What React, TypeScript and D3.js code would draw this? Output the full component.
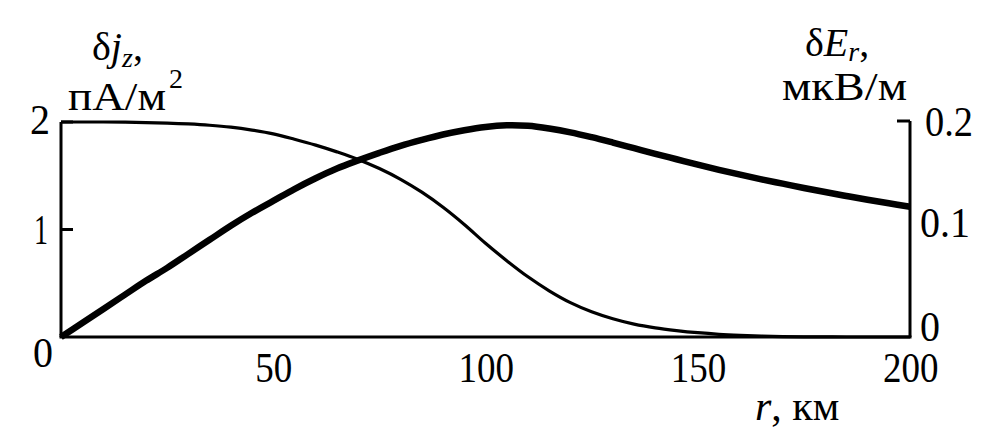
import React from "react";
import * as d3 from "d3";

const radius = [
  0, 5, 10, 15, 20, 25, 30, 35, 40, 45, 50, 55, 60, 65, 70, 75, 80, 85, 90, 95, 100,
  105, 110, 115, 120, 125, 130, 135, 140, 145, 150, 155, 160, 165, 170, 175, 180, 185, 190, 195, 200,
];
const currentJ = [
  2.0, 2.0, 2.0, 1.998, 1.995, 1.99, 1.982, 1.97, 1.952, 1.925, 1.89, 1.84, 1.785, 1.722, 1.652, 1.567, 1.467, 1.347, 1.207, 1.047, 0.872,
  0.71, 0.56, 0.43, 0.32, 0.235, 0.17, 0.12, 0.085, 0.06, 0.04, 0.025, 0.015, 0.008, 0.004, 0.002, 0.001, 0.0, 0.0, 0.0, 0.0,
];
const fieldE = [
  0, 0.013, 0.026, 0.039, 0.052, 0.064, 0.077, 0.09, 0.103, 0.115, 0.126, 0.137, 0.147, 0.156, 0.1635, 0.1705, 0.177, 0.1825, 0.1875, 0.1915, 0.1945,
  0.196, 0.1955, 0.193, 0.1895, 0.185, 0.18, 0.1748, 0.1696, 0.1646, 0.1596, 0.1548, 0.1503, 0.146, 0.142, 0.138, 0.1342, 0.1306, 0.1271, 0.1238, 0.1206,
];
const xTicks = [50, 100, 150, 200];
const leftTicks = [1, 2];
const rightTicks = [0.2];

const FONT = "'Liberation Serif', 'Times New Roman', serif";

export default function App() {
  const W = 1004, H = 437;
  const x = d3.scaleLinear().domain([0, 200]).range([61, 910]);
  const yL = d3.scaleLinear().domain([0, 2]).range([337, 122]);
  const yR = d3.scaleLinear().domain([0, 0.2]).range([337, 121]);

  const lineJ = d3.line<number>().x((_, i) => x(radius[i])).y((d) => yL(d)).curve(d3.curveCatmullRom.alpha(0.5));
  const lineE = d3.line<number>().x((_, i) => x(radius[i])).y((d) => yR(d)).curve(d3.curveCatmullRom.alpha(0.5));

  const tickFs = 42;
  return (
    <svg width={W} height={H} style={{ position: "absolute", left: 0, top: 0, background: "#fff" }} fontFamily={FONT}>
      <rect width={W} height={H} fill="#fff" />
      {/* axes */}
      <g stroke="#000" strokeWidth={3} fill="none">
        <line x1={x(0)} x2={x(0)} y1={yL(2)} y2={yL(0)} />
        <line x1={x(200)} x2={x(200)} y1={yR(0.2)} y2={yR(0)} />
        <line x1={x(0) - 1.5} x2={x(200) + 1.5} y1={yL(0)} y2={yL(0)} />
        {leftTicks.map((t) => (
          <line key={"lt" + t} x1={x(0)} x2={x(0) + 12} y1={yL(t)} y2={yL(t)} />
        ))}
        {rightTicks.map((t) => (
          <line key={"rt" + t} x1={x(200) - 13} x2={x(200)} y1={yR(t)} y2={yR(t)} />
        ))}
      </g>
      {/* curves */}
      <path d={lineJ(currentJ) || ""} fill="none" stroke="#000" strokeWidth={3.2} />
      <path d={lineE(fieldE) || ""} fill="none" stroke="#000" strokeWidth={6.5} strokeLinecap="butt" />

      {/* tick labels */}
      <g fontSize={tickFs} fill="#000">
        <text x={50} y={yL(2) + 12} textAnchor="end" textLength={20} lengthAdjust="spacingAndGlyphs">2</text>
        <text x={48} y={yL(1) + 14} textAnchor="end" textLength={14} lengthAdjust="spacingAndGlyphs">1</text>
        <text x={33} y={367} textLength={20} lengthAdjust="spacingAndGlyphs">0</text>
        {xTicks.map((t) => (
          <text key={"xt" + t} x={x(t) - (String(t).length * 18) / 2} y={382} textLength={String(t).length * 18.5} lengthAdjust="spacingAndGlyphs">
            {t}
          </text>
        ))}
        <text x={920} y={yR(0) + 4} textLength={20} lengthAdjust="spacingAndGlyphs">0</text>
        <text x={920} y={yR(0.1) + 8} textLength={50} lengthAdjust="spacingAndGlyphs">0.1</text>
        <text x={925} y={yR(0.2) + 15} textLength={48} lengthAdjust="spacingAndGlyphs">0.2</text>
      </g>

      {/* left axis title */}
      <g fill="#000" fontSize={40}>
        <text x={92} y={60}>
          δ<tspan fontStyle="italic">j</tspan>
          <tspan fontStyle="italic" fontSize={28} dy={7}>z</tspan>
          <tspan dy={-7}>,</tspan>
        </text>
        <text x={68} y={110} textLength={98} lengthAdjust="spacingAndGlyphs">пА/м</text>
        <text x={169} y={88} fontSize={28}>2</text>
      </g>

      {/* right axis title */}
      <g fill="#000" fontSize={40}>
        <text x={805} y={56}>
          δ<tspan fontStyle="italic">E</tspan>
          <tspan fontStyle="italic" fontSize={28} dy={5}>r</tspan>
          <tspan dy={-5}>,</tspan>
        </text>
        <text x={782} y={100} textLength={125} lengthAdjust="spacingAndGlyphs">мкВ/м</text>
      </g>

      {/* x axis title */}
      <text x={755} y={420} fontSize={42} fill="#000">
        <tspan fontStyle="italic">r</tspan>, км
      </text>
    </svg>
  );
}
